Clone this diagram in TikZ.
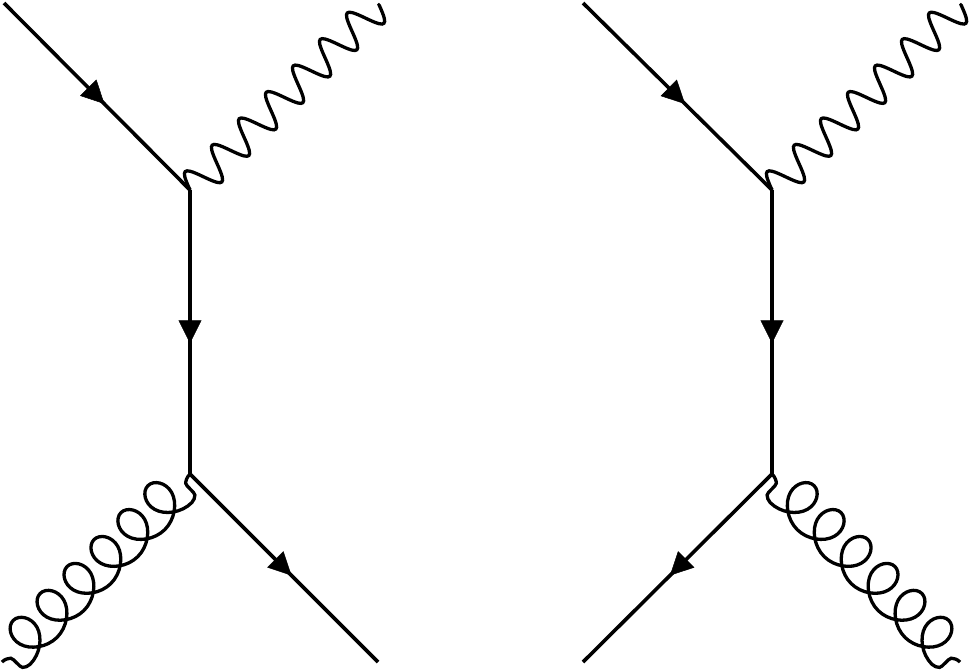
\documentclass[tikz,border=0pt]{standalone}
\usetikzlibrary{decorations,decorations.markings,arrows.meta}

\pgfdeclaredecoration{photonwave}{up}{
  \state{up}[width=18.9pt,next state=down]{
    \pgfpathcurveto{\pgfpoint{4.7pt}{13pt}}{\pgfpoint{7pt}{16.5pt}}{\pgfpoint{9.45pt}{16.5pt}}
    \pgfpathcurveto{\pgfpoint{11.9pt}{16.5pt}}{\pgfpoint{14.2pt}{13pt}}{\pgfpoint{18.9pt}{0pt}}
  }
  \state{down}[width=18.9pt,next state=up]{
    \pgfpathcurveto{\pgfpoint{4.7pt}{-13pt}}{\pgfpoint{7pt}{-16.5pt}}{\pgfpoint{9.45pt}{-16.5pt}}
    \pgfpathcurveto{\pgfpoint{11.9pt}{-16.5pt}}{\pgfpoint{14.2pt}{-13pt}}{\pgfpoint{18.9pt}{0pt}}
  }
  \state{final}{\pgfpathlineto{\pgfpointdecoratedpathlast}}
}

\pgfdeclaredecoration{gluonloop}{start}{
  \state{start}[width=19pt,next state=loop]{
    \pgfpathcurveto{\pgfpoint{5pt}{0pt}}{\pgfpoint{8pt}{-2pt}}{\pgfpoint{9.6pt}{-3.5pt}}
    \pgfpathcurveto{\pgfpoint{11.5pt}{-5.5pt}}{\pgfpoint{9.5pt}{-16.4pt}}{\pgfpoint{11.4pt}{-18.3pt}}
    \pgfpathcurveto{\pgfpoint{13pt}{-20pt}}{\pgfpoint{16pt}{-21.5pt}}{\pgfpoint{19pt}{-21.5pt}}
  }
  \state{loop}[switch if less than=30pt to last,width=38.1pt]{
    \pgfpathcurveto{\pgfpoint{14.4pt}{-21.5pt}}{\pgfpoint{27.9pt}{-11.3pt}}{\pgfpoint{31pt}{0pt}}
    \pgfpathcurveto{\pgfpoint{34.2pt}{11.3pt}}{\pgfpoint{27.1pt}{21.5pt}}{\pgfpoint{19pt}{21.5pt}}
    \pgfpathcurveto{\pgfpoint{10.9pt}{21.5pt}}{\pgfpoint{3.9pt}{11.3pt}}{\pgfpoint{7pt}{0pt}}
    \pgfpathcurveto{\pgfpoint{10.2pt}{-11.3pt}}{\pgfpoint{23.7pt}{-21.5pt}}{\pgfpoint{38.1pt}{-21.5pt}}
  }
  \state{last}[width=17pt,next state=final]{
    \pgfpathcurveto{\pgfpoint{3pt}{-21.5pt}}{\pgfpoint{6pt}{-20pt}}{\pgfpoint{7.6pt}{-18.3pt}}
    \pgfpathcurveto{\pgfpoint{9.5pt}{-16.4pt}}{\pgfpoint{7.5pt}{-5.5pt}}{\pgfpoint{9.4pt}{-3.5pt}}
    \pgfpathcurveto{\pgfpoint{11pt}{-2pt}}{\pgfpoint{14pt}{0pt}}{\pgfpoint{18.2pt}{0pt}}
  }
  \state{final}{\pgfpathlineto{\pgfpointdecoratedpathlast}}
}

\tikzstyle{fermion} = [ line width=3.6pt,postaction={decorate},
                        decoration={markings,mark=at position #1 with {\arrow[line width=0.5pt]{Triangle[length=23pt,width=23pt]}}}]
\tikzstyle{photon} = [ line width=3.3pt,decorate,decoration={photonwave}]
\tikzstyle{gluon} = [ line width=3.3pt,decorate,decoration={gluonloop}]

\begin{document}
\begin{tikzpicture}[x=1pt,y=-1pt]
  \useasboundingbox (0,0) rectangle (969,670);
  \coordinate (in1) at (4,3);
  \coordinate (v1) at (190,190);
  \coordinate (v2) at (190,474);
  \coordinate (ph1) at (380,4);
  \coordinate (gl1) at (2,662);
  \coordinate (out1) at (378,662);

  \coordinate (in2) at (583,3);
  \coordinate (v3) at (772,190);
  \coordinate (v4) at (772,474);
  \coordinate (ph2) at (962,4);
  \coordinate (gl2) at (960,662);
  \coordinate (out2) at (583,662);

  \draw[fermion=0.54] (in1) -- (v1);
  \draw[fermion=0.54] (v1) -- (v2);
  \draw[fermion=0.54] (v2) -- (out1);
  \draw[photon] (v1) -- (ph1);
  \draw[gluon,decoration={mirror}] (v2) -- (gl1);

  \draw[fermion=0.54] (in2) -- (v3);
  \draw[fermion=0.54] (v3) -- (v4);
  \draw[fermion=0.54] (v4) -- (out2);
  \draw[photon] (v3) -- (ph2);
  \draw[gluon] (v4) -- (gl2);
\end{tikzpicture}
\end{document}
